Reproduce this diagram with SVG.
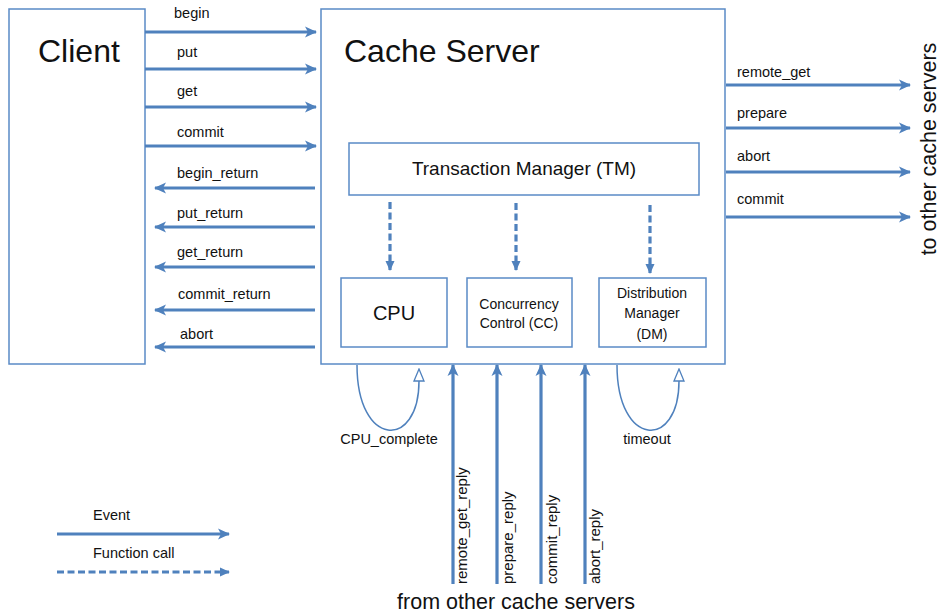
<svg xmlns="http://www.w3.org/2000/svg" width="942" height="614" viewBox="0 0 942 614">
<defs>
<style>
.box{fill:#fff;stroke:#5a8ac6;stroke-width:1.5}
.ev{fill:none;stroke:#4f81bd;stroke-width:3.2;marker-end:url(#ah)}
.fc{fill:none;stroke:#4f81bd;stroke-width:3.2;stroke-dasharray:7 3.5;marker-end:url(#ahd)}
.loop{fill:none;stroke:#4f81bd;stroke-width:1.5;marker-end:url(#open)}
text{font-family:"Liberation Sans",Arial,sans-serif;fill:#111}
.lbl{font-size:14.5px}
.big{font-size:32px}
.side{font-size:21.5px}
.rot{font-size:15px}
</style>
<marker id="ah" markerUnits="userSpaceOnUse" viewBox="0 0 12 12" refX="11" refY="6" markerWidth="12" markerHeight="12" orient="auto">
<path d="M0,0.5 L12,6 L0,11.5 L3,6 Z" fill="#4f81bd"/>
</marker>
<marker id="ahd" markerUnits="userSpaceOnUse" viewBox="0 0 12 12" refX="10" refY="6" markerWidth="11" markerHeight="11" orient="auto">
<path d="M0,1 L11,6 L0,11 Z" fill="#4f81bd"/>
</marker>
<marker id="open" markerUnits="userSpaceOnUse" viewBox="0 0 14 12" refX="1" refY="6" markerWidth="14" markerHeight="12" orient="auto">
<path d="M1,1 L13,6 L1,11 Z" fill="#fff" stroke="#4f81bd" stroke-width="1.3"/>
</marker>
</defs>

<g id="client">
<rect class="box" x="9" y="9" width="136" height="355"/>
<text class="big" x="38" y="62" font-size="33">Client</text>
</g>

<g id="cache-server">
<rect class="box" x="321" y="9" width="404" height="355"/>
<text class="big" x="344" y="62">Cache Server</text>
</g>

<g id="tm">
<rect class="box" x="349" y="143" width="350" height="52"/>
<text x="524" y="175" font-size="19" text-anchor="middle">Transaction Manager (TM)</text>
</g>

<g id="cpu">
<rect class="box" x="341" y="278" width="106" height="69"/>
<text x="394" y="320" font-size="20" text-anchor="middle">CPU</text>
</g>

<g id="cc">
<rect class="box" x="467" y="278" width="105" height="69"/>
<text x="519" y="309" font-size="14" text-anchor="middle">Concurrency</text>
<text x="519" y="328" font-size="14" text-anchor="middle">Control (CC)</text>
</g>

<g id="dm">
<rect class="box" x="599" y="278" width="107" height="69"/>
<text x="652" y="298" font-size="14" text-anchor="middle">Distribution</text>
<text x="652" y="318" font-size="14" text-anchor="middle">Manager</text>
<text x="652" y="339" font-size="14" text-anchor="middle">(DM)</text>
</g>

<g id="connectors">
<path class="ev" d="M145,32 H316"/>
<path class="ev" d="M145,69 H316"/>
<path class="ev" d="M145,107 H316"/>
<path class="ev" d="M145,146 H316"/>
<path class="ev" d="M315,188 H155"/>
<path class="ev" d="M315,227 H155"/>
<path class="ev" d="M315,267 H155"/>
<path class="ev" d="M315,310 H155"/>
<path class="ev" d="M315,347 H155"/>
<path class="ev" d="M726,85 H910"/>
<path class="ev" d="M726,128 H910"/>
<path class="ev" d="M726,172 H910"/>
<path class="ev" d="M726,217 H910"/>
<path class="fc" d="M390,202 V270"/>
<path class="fc" d="M516,203 V270"/>
<path class="fc" d="M650,205 V273"/>
<path class="loop" d="M357,365 C357,448 419,450 419,381"/>
<path class="loop" d="M617,365 C617,448 679,450 679,381"/>
<path class="ev" d="M453,584 V365"/>
<path class="ev" d="M497,584 V365"/>
<path class="ev" d="M541,584 V365"/>
<path class="ev" d="M585,584 V365"/>
<path class="ev" d="M57,534 H229"/>
<path class="fc" d="M57,572 H229"/>
</g>

<g id="labels">
<text class="lbl" x="174" y="18">begin</text>
<text class="lbl" x="177" y="57">put</text>
<text class="lbl" x="177" y="96">get</text>
<text class="lbl" x="177" y="137">commit</text>
<text class="lbl" x="177" y="178">begin_return</text>
<text class="lbl" x="177" y="218">put_return</text>
<text class="lbl" x="177" y="257">get_return</text>
<text class="lbl" x="178" y="299">commit_return</text>
<text class="lbl" x="180" y="339">abort</text>
<text class="lbl" x="737" y="77">remote_get</text>
<text class="lbl" x="737" y="118">prepare</text>
<text class="lbl" x="737" y="161">abort</text>
<text class="lbl" x="737" y="204">commit</text>
<text class="lbl" x="389" y="444" text-anchor="middle">CPU_complete</text>
<text class="lbl" x="647" y="444" text-anchor="middle">timeout</text>
<text class="rot" transform="translate(467,584) rotate(-90)">remote_get_reply</text>
<text class="rot" transform="translate(513,584) rotate(-90)">prepare_reply</text>
<text class="rot" transform="translate(557,584) rotate(-90)">commit_reply</text>
<text class="rot" transform="translate(600,584) rotate(-90)">abort_reply</text>
<text class="side" x="516" y="609" text-anchor="middle">from other cache servers</text>
<text class="side" transform="translate(936,149) rotate(-90)" text-anchor="middle" font-size="21">to other cache servers</text>
<text class="lbl" x="93" y="520">Event</text>
<text class="lbl" x="93" y="558">Function call</text>
</g>
</svg>
